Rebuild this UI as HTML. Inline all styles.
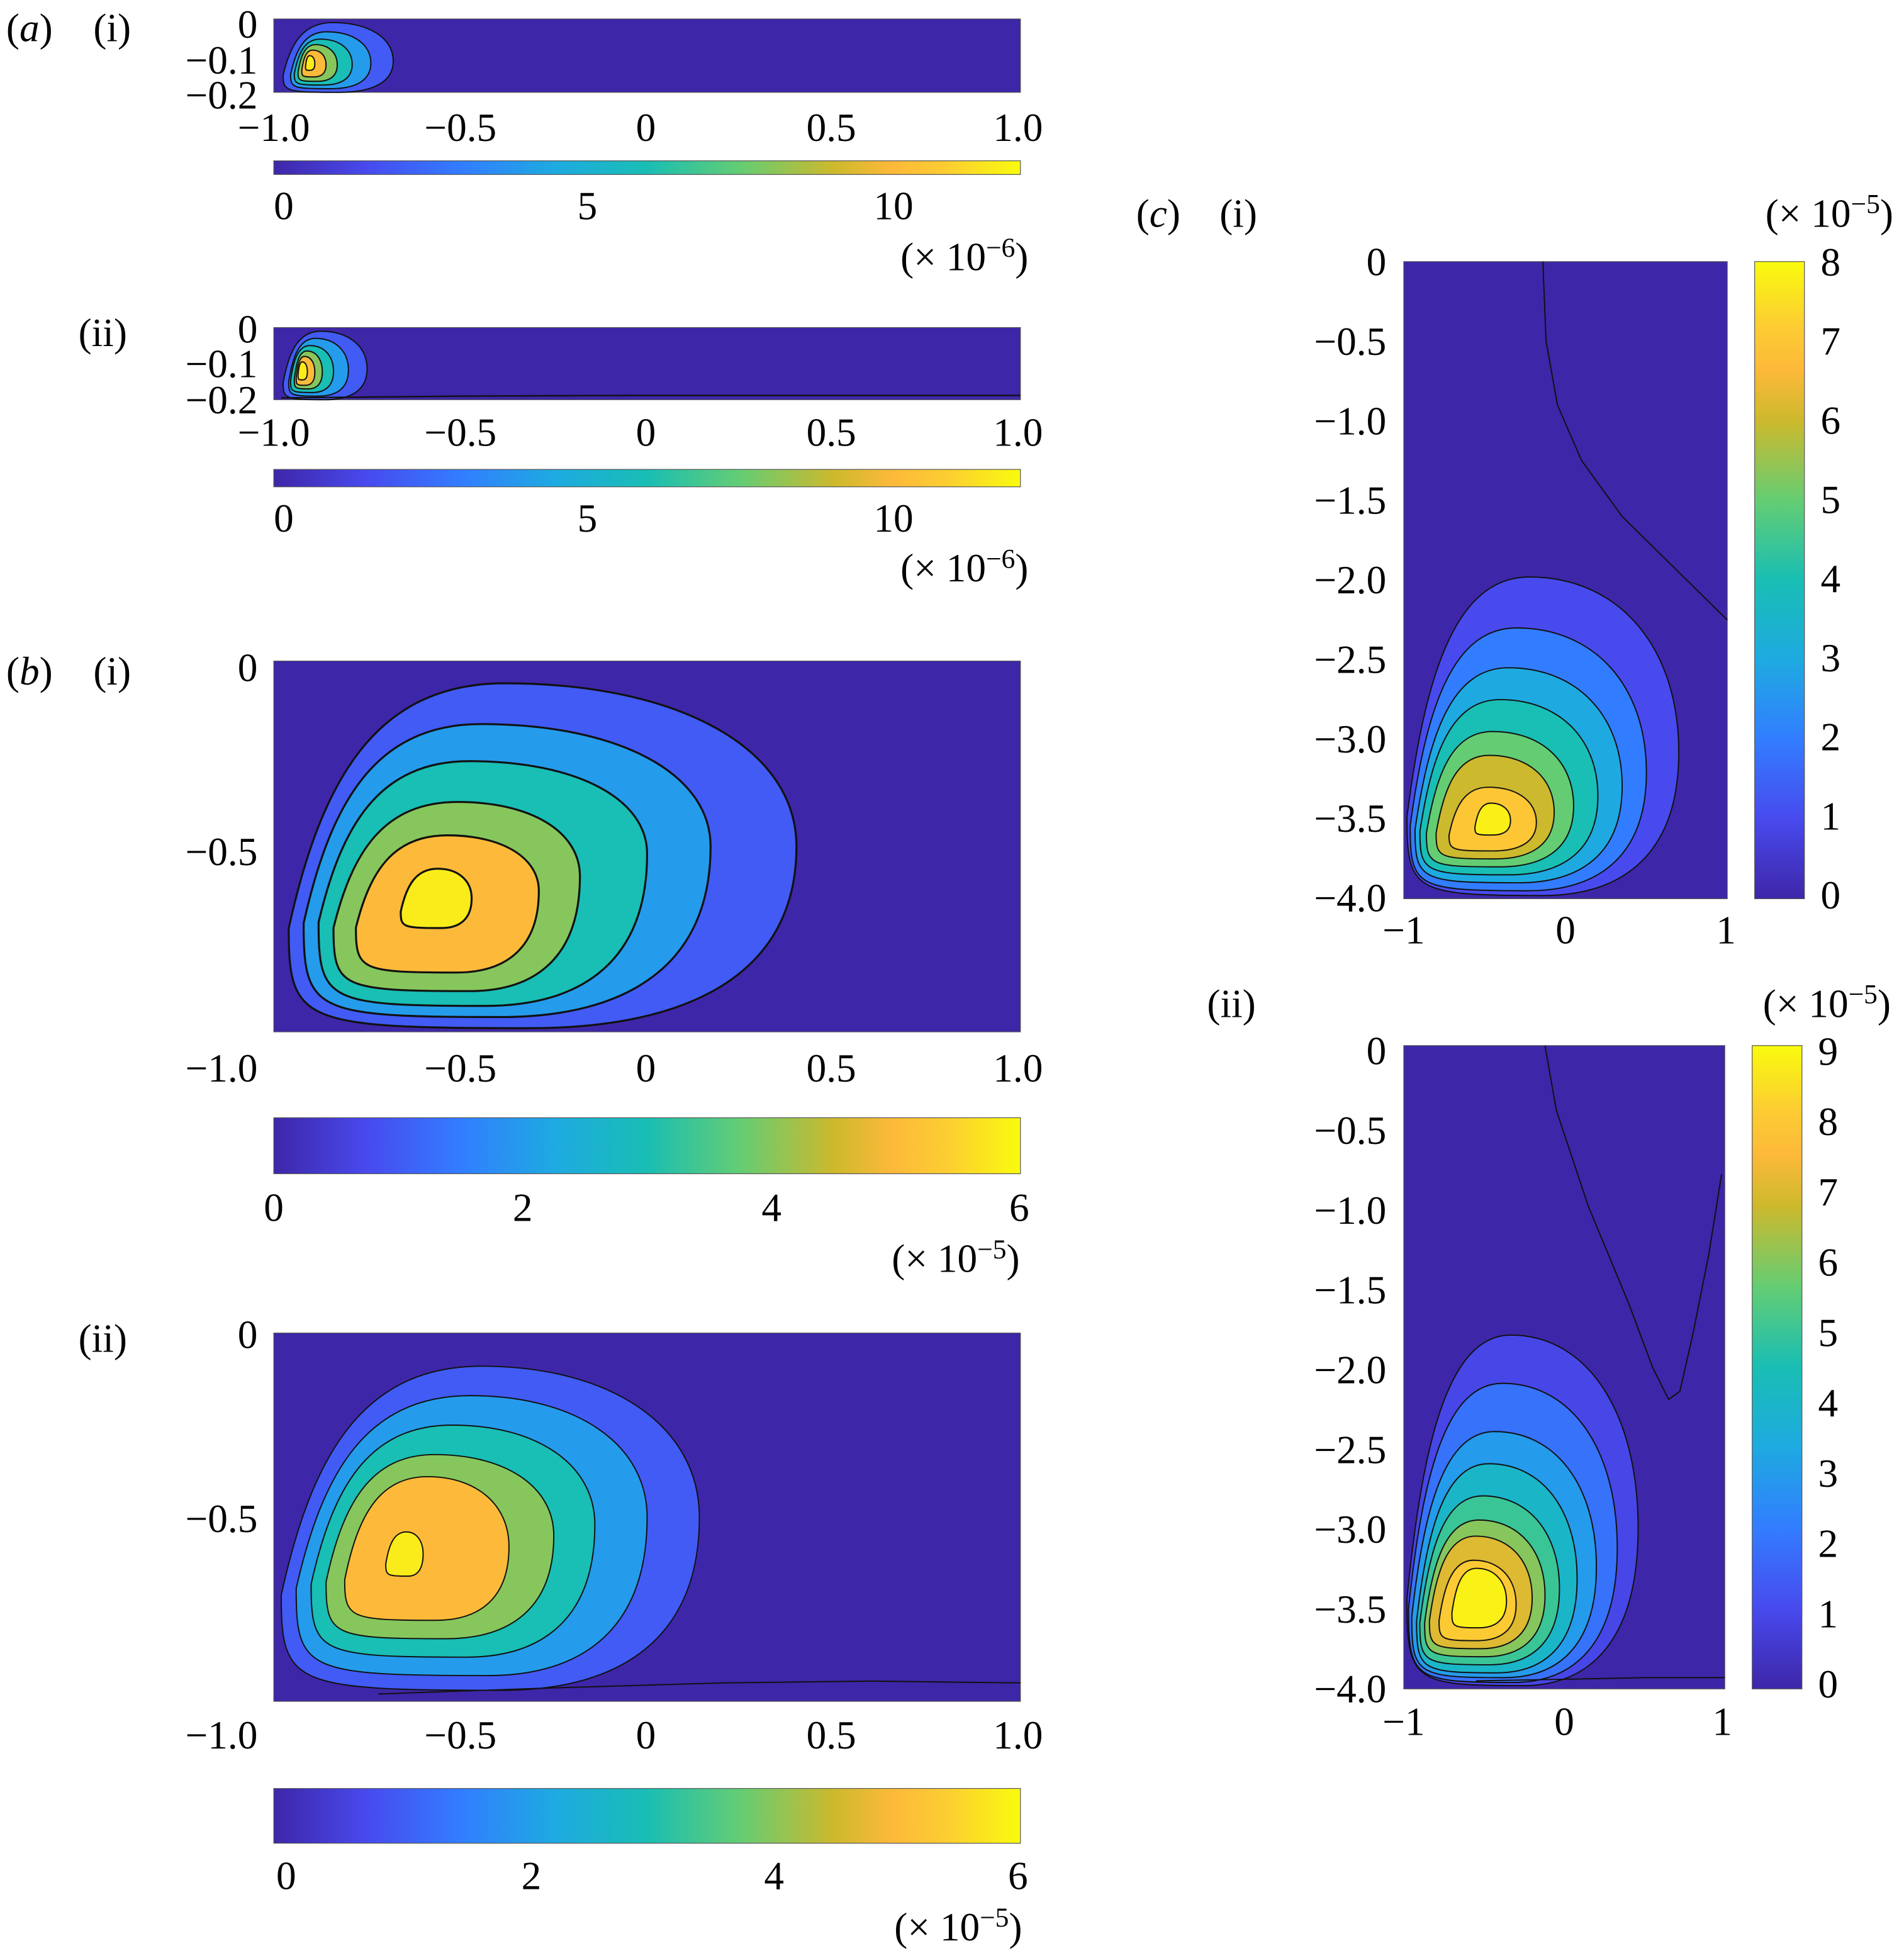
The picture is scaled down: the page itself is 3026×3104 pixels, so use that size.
<!DOCTYPE html>
<html><head><meta charset="utf-8"><style>
html,body{margin:0;padding:0;background:#fff;}
svg{display:block;}
text{font-family:"Liberation Serif",serif;fill:#000;}
</style></head><body>
<svg id="fig" xmlns="http://www.w3.org/2000/svg" width="3026" height="3104" viewBox="0 0 1530 1569">
<defs>
<linearGradient id="gh" x1="0" y1="0" x2="1" y2="0"></linearGradient>
<linearGradient id="gv" x1="0" y1="1" x2="0" y2="0"></linearGradient>
</defs>
</svg>
<script>
// colormap stops (parula)
const cmapPos = [0,0.125,0.25,0.375,0.5,0.625,0.75,0.83,0.9,1];
const cmapStops = [[62,38,168],[72,74,238],[50,125,255],[30,170,225],[25,190,180],[100,205,115],[205,185,45],[253,185,58],[252,205,50],[249,251,14]];
// contour data per panel: left, right, top, bottom, centre x, centre y, level
const aiL=[-0.975,-0.955,-0.945,-0.935,-0.925,-0.915], aiR=[-0.68,-0.74,-0.79,-0.83,-0.86,-0.89], aiT=[-0.01,-0.035,-0.055,-0.07,-0.085,-0.1], aiB=[-0.2,-0.19,-0.18,-0.17,-0.158,-0.14], aiV=[1,2,3,4,5,5.8];
const aiiL=[-0.975,-0.96,-0.955,-0.945,-0.94,-0.935], aiiR=[-0.75,-0.8,-0.84,-0.87,-0.89,-0.91], aiiT=[-0.01,-0.03,-0.05,-0.065,-0.08,-0.095], aiiB=[-0.2,-0.19,-0.18,-0.17,-0.16,-0.145], aiiV=[1,2,3,4,5,5.8];
const biL=[-0.96,-0.92,-0.88,-0.84,-0.78,-0.66], biR=[0.4,0.17,0.0,-0.18,-0.29,-0.47], biT=[-0.06,-0.17,-0.27,-0.38,-0.47,-0.56], biB=[-0.99,-0.96,-0.93,-0.89,-0.84,-0.72], biCx=[-0.45,-0.5,-0.52,-0.54,-0.56,-0.57], biCy=[-0.5,-0.5,-0.52,-0.58,-0.62,-0.64], biV=[1,2,3,4,5,5.8];
const biiL=[-0.98,-0.94,-0.9,-0.86,-0.81,-0.7], biiR=[0.14,0.0,-0.14,-0.25,-0.37,-0.6], biiT=[-0.09,-0.17,-0.25,-0.33,-0.39,-0.54], biiB=[-0.97,-0.93,-0.88,-0.83,-0.78,-0.66], biiCx=[-0.5,-0.52,-0.56,-0.6,-0.61,-0.65], biiCy=[-0.5,-0.5,-0.52,-0.55,-0.58,-0.6], biiV=[1,2,3,4,5,5.8];
const ciL=[-0.98,-0.96,-0.93,-0.9,-0.86,-0.8,-0.72,-0.56], ciR=[0.7,0.5,0.35,0.2,0.05,-0.07,-0.18,-0.34], ciT=[-1.98,-2.3,-2.55,-2.75,-2.95,-3.1,-3.3,-3.4], ciB=[-3.98,-3.95,-3.9,-3.85,-3.8,-3.75,-3.7,-3.6], ciV=[1,2,3,4,5,6,7,7.8];
const ciiL=[-0.98,-0.97,-0.95,-0.92,-0.9,-0.87,-0.84,-0.78,-0.7], ciiR=[0.46,0.33,0.2,0.08,-0.03,-0.12,-0.2,-0.3,-0.36], ciiT=[-1.8,-2.1,-2.4,-2.6,-2.8,-2.95,-3.05,-3.2,-3.25], ciiB=[-3.98,-3.96,-3.93,-3.9,-3.85,-3.8,-3.75,-3.7,-3.62], ciiV=[1,2,3,4,5,6,7,8,8.8];
// zero-level contour lines
const aiiLineX=[-0.98,-0.5,0,0.5,1], aiiLineY=[-0.195,-0.19,-0.188,-0.188,-0.188];
const biiLineX=[-0.72,-0.3,0.2,0.6,1], biiLineY=[-0.98,-0.965,-0.95,-0.945,-0.95];
const ciLineX=[-0.14,-0.12,-0.05,0.1,0.35,0.7,1], ciLineY=[0,-0.5,-0.9,-1.25,-1.6,-1.95,-2.25];
const ciiLineX=[-0.12,-0.05,0.15,0.4,0.55,0.65,0.72,0.8,0.9,0.98], ciiLineY=[0,-0.4,-1.0,-1.6,-2.0,-2.2,-2.15,-1.8,-1.3,-0.8];
const ciiLine2X=[-0.55,0,0.5,1], ciiLine2Y=[-3.95,-3.94,-3.93,-3.93];

const NS="http://www.w3.org/2000/svg", svg=document.getElementById('fig');
function el(tag,attrs,parent){const e=document.createElementNS(NS,tag);for(const k in attrs)e.setAttribute(k,attrs[k]);(parent||svg).appendChild(e);return e;}
function cmap(t){t=Math.max(0,Math.min(1,t));let i=0;while(i<cmapPos.length-2&&t>cmapPos[i+1])i++;const f=(t-cmapPos[i])/(cmapPos[i+1]-cmapPos[i]),a=cmapStops[i],b=cmapStops[i+1];return 'rgb('+a.map((v,k)=>Math.round(v+(b[k]-v)*f)).join(',')+')';}
['gh','gv'].forEach(id=>{const g=document.getElementById(id);cmapStops.forEach((c,i)=>el('stop',{offset:cmapPos[i],'stop-color':'rgb('+c.join(',')+')'},g));});
function txt(s,x,y,anchor,name,size,parent){const t=el('text',{x:x,y:y,'text-anchor':anchor||'middle','font-size':size||32},parent);t.innerHTML=s;


return t;}
function blob(X,Y,L,R,T,B,cx,cy){const xt=X(cx+0.05*(R-L)),yt=Y(T),xr=X(R),yr=Y(cy),xb=X(cx+0.1*(R-L)),yb=Y(B),xl=X(L),yl=Y(cy+0.45*(B-cy));const k=0.6,kb=0.95,kl=0.7;
return `M${xt},${yt} C${xt+k*(xr-xt)},${yt} ${xr},${yr-k*(yr-yt)} ${xr},${yr} C${xr},${yr+kl*(yb-yr)} ${xb+k*(xr-xb)},${yb} ${xb},${yb} C${xb-kb*(xb-xl)},${yb} ${xl},${yl+kb*(yb-yl)} ${xl},${yl} C${xl+0.15*(xt-xl)},${yl-0.6*(yl-yt)} ${xt-0.6*(xt-xl)},${yt} ${xt},${yt} Z`;}
function line(X,Y,xs,ys,g,sw){let d='';xs.forEach((x,i)=>{d+=(i?' L':'M')+X(x)+','+Y(ys[i]);});const p=el('path',{d:d,fill:'none',stroke:'#111','stroke-width':sw,'stroke-linejoin':'round'},g);

}
function panel(name,px0,px1,py0,py1,xr,yr,L,R,T,B,CX,CY,V,vmax,sw){
  const g=el('g',{});
  
  
  const X=x=>px0+(x-xr[0])/(xr[1]-xr[0])*(px1-px0), Y=y=>py0+(y-yr[0])/(yr[1]-yr[0])*(py1-py0);
  const bg=el('rect',{x:px0,y:py0,width:px1-px0,height:py1-py0,fill:cmap(0),stroke:'#555','stroke-width':0.6},g);
  
  
  V.forEach((v,i)=>{const cx=CX?CX[i]:(L[i]+R[i])/2-0.1*(R[i]-L[i]),cy=CY?CY[i]:(T[i]+B[i])/2-0.05*(T[i]-B[i]);
    const p=el('path',{d:blob(X,Y,L[i],R[i],T[i],B[i],cx,cy),fill:cmap(v/vmax),stroke:'#111','stroke-width':sw},g);
    
    });
  return {g,X,Y};
}
function hbar(name,x0,x1,y0,y1){const r=el('rect',{x:x0,y:y0,width:x1-x0,height:y1-y0,fill:'url(#gh)',stroke:'#555','stroke-width':0.6});

}
function vbar(name,x0,x1,y0,y1){const r=el('rect',{x:x0,y:y0,width:x1-x0,height:y1-y0,fill:'url(#gv)',stroke:'#555','stroke-width':0.6});

}
const MI='\u2212';
function xt(labels,xs,y){labels.forEach((l,i)=>txt(l,xs[i],y,'middle','x-tick-label'));}
const EXP6='(× 10<tspan dy="-11" font-size="22">'+MI+'6</tspan><tspan dy="11">)</tspan>';
const EXP5='(× 10<tspan dy="-11" font-size="22">'+MI+'5</tspan><tspan dy="11">)</tspan>';

// (a)(i)
const pa1=panel('panel-a-i',220,820,15,74,[-1,1],[0,-0.2],aiL,aiR,aiT,aiB,null,null,aiV,6,1);
txt('(<tspan font-style="italic">a</tspan>)',5,33,'start','panel-label-a');txt('(i)',75,33,'start','panel-label-a-i');
txt('0',207,30,'end','y-tick-label');txt(MI+'0.1',207,59,'end','y-tick-label');txt(MI+'0.2',207,87,'end','y-tick-label');
xt([MI+'1.0',MI+'0.5','0','0.5','1.0'],[220,370,519,668,818],113);
hbar('colorbar-a-i',220,820,129,140);
xt(['0','5','10'],[228,472,718],176);
txt(EXP6,775,217,'middle','colorbar-exponent');
// (a)(ii)
const pa2=panel('panel-a-ii',220,820,263,321,[-1,1],[0,-0.2],aiiL,aiiR,aiiT,aiiB,null,null,aiiV,6,1);
line(pa2.X,pa2.Y,aiiLineX,aiiLineY,pa2.g,1.2);
txt('(ii)',63,278,'start','panel-label-a-ii');
txt('0',207,275,'end','y-tick-label');txt(MI+'0.1',207,303,'end','y-tick-label');txt(MI+'0.2',207,332,'end','y-tick-label');
xt([MI+'1.0',MI+'0.5','0','0.5','1.0'],[220,370,519,668,818],358);
hbar('colorbar-a-ii',220,820,377,391);
xt(['0','5','10'],[228,472,718],427);
txt(EXP6,775,467,'middle','colorbar-exponent');
// (b)(i)
const pb1=panel('panel-b-i',220,820,531,829,[-1,1],[0,-1],biL,biR,biT,biB,biCx,biCy,biV,6,1.6);
txt('(<tspan font-style="italic">b</tspan>)',5,550,'start','panel-label-b');txt('(i)',75,550,'start','panel-label-b-i');
txt('0',207,547,'end','y-tick-label');txt(MI+'0.5',207,695,'end','y-tick-label');txt(MI+'1.0',207,869,'end','y-tick-label');
xt([MI+'0.5','0','0.5','1.0'],[370,519,668,818],869);
hbar('colorbar-b-i',220,820,898,943);
xt(['0','2','4','6'],[220,420,620,819],981);
txt(EXP5,768,1022,'middle','colorbar-exponent');
// (b)(ii)
const pb2=panel('panel-b-ii',220,820,1071,1367,[-1,1],[0,-1],biiL,biiR,biiT,biiB,biiCx,biiCy,biiV,6,1);
line(pb2.X,pb2.Y,biiLineX,biiLineY,pb2.g,1);
txt('(ii)',63,1086,'start','panel-label-b-ii');
txt('0',207,1083,'end','y-tick-label');txt(MI+'0.5',207,1231,'end','y-tick-label');txt(MI+'1.0',207,1405,'end','y-tick-label');
xt([MI+'0.5','0','0.5','1.0'],[370,519,668,818],1405);
hbar('colorbar-b-ii',220,820,1437,1481);
xt(['0','2','4','6'],[230,427,622,818],1518);
txt(EXP5,770,1559,'middle','colorbar-exponent');
// (c)(i)
const pc1=panel('panel-c-i',1128,1388,210,722,[-1,1],[0,-4],ciL,ciR,ciT,ciB,null,null,ciV,8,1);
line(pc1.X,pc1.Y,ciLineX,ciLineY,pc1.g,1);
txt('(<tspan font-style="italic">c</tspan>)',913,182,'start','panel-label-c');txt('(i)',980,182,'start','panel-label-c-i');
txt(EXP5,1470,182,'middle','colorbar-exponent');
['0',MI+'0.5',MI+'1.0',MI+'1.5',MI+'2.0',MI+'2.5',MI+'3.0',MI+'3.5',MI+'4.0'].forEach((l,i)=>txt(l,1114,221+i*63.9,'end','y-tick-label'));
xt([MI+'1','0','1'],[1128,1258,1387],758);
vbar('colorbar-c-i',1410,1450,210,722);
['0','1','2','3','4','5','6','7','8'].forEach((l,i)=>txt(l,1463,730-i*63.6,'start','colorbar-tick-label'));
// (c)(ii)
const pc2=panel('panel-c-ii',1128,1386,840,1357,[-1,1],[0,-4],ciiL,ciiR,ciiT,ciiB,null,null,ciiV,9,1);
line(pc2.X,pc2.Y,ciiLineX,ciiLineY,pc2.g,1);
line(pc2.X,pc2.Y,ciiLine2X,ciiLine2Y,pc2.g,1);
txt('(ii)',970,817,'start','panel-label-c-ii');
txt(EXP5,1468,817,'middle','colorbar-exponent');
['0',MI+'0.5',MI+'1.0',MI+'1.5',MI+'2.0',MI+'2.5',MI+'3.0',MI+'3.5',MI+'4.0'].forEach((l,i)=>txt(l,1114,855+i*64.1,'end','y-tick-label'));
xt([MI+'1','0','1'],[1128,1257,1384],1394);
vbar('colorbar-c-ii',1408,1448,840,1357);
['0','1','2','3','4','5','6','7','8','9'].forEach((l,i)=>txt(l,1461,1364-i*56.5,'start','colorbar-tick-label'));
</script>
</body></html>
